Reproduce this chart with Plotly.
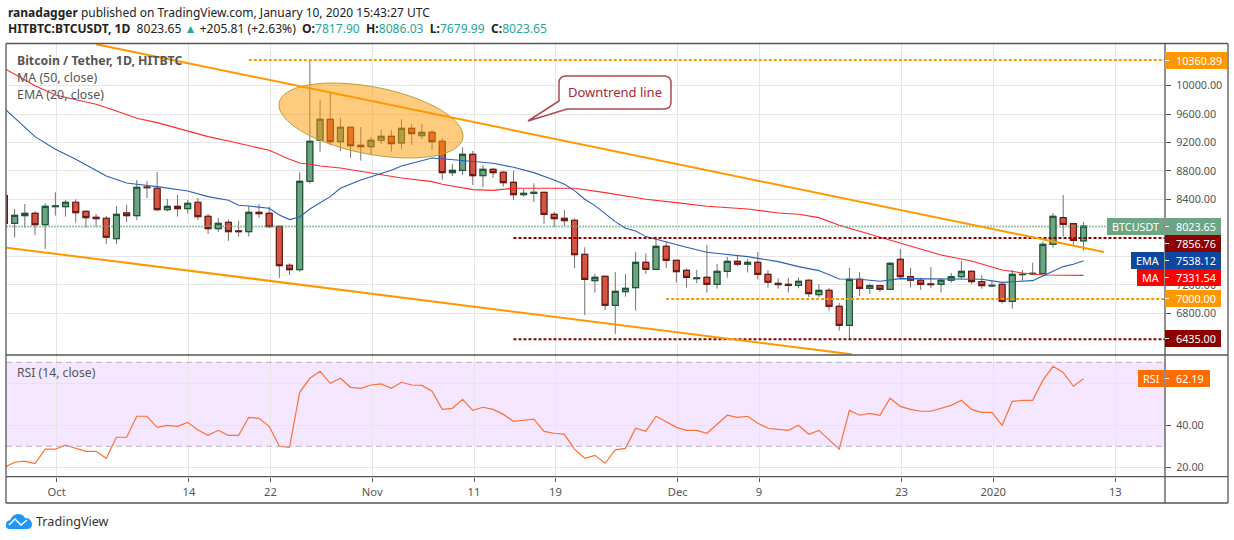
import numpy as np
import pandas as pd
import plotly.graph_objects as go
from plotly.subplots import make_subplots

W, H = 1234, 540
FONT = "Noto Sans"

dates = pd.date_range("2019-09-26", "2020-01-10", freq="D")

opens = [8453,8064,8172,8205,8046,8299,8299,8360,8233,8149,8135,7849,8210,8172,8575,8557,8257,8303,8271,8360,
         8163,7989,8078,7957,7947,8219,8205,8022,7474,7413,8655,9232,9527,9213,9415,9161,9143,9232,9288,9194,
         9400,9297,9344,9218,8777,8810,9035,8735,8824,8782,8641,8467,8486,8500,8191,8135,8107,7628,7258,7319,
         6911,7103,7160,7516,7417,7741,7544,7403,7286,7305,7206,7389,7530,7488,7516,7347,7220,7206,7192,7263,
         7061,7122,6897,6630,7277,7150,7188,7136,7558,7314,7263,7211,7206,7263,7314,7389,7244,7183,7206,6967,
         7342,7352,7356,7769,8144,8060,7817.90]
highs = [8453,8266,8336,8233,8346,8500,8393,8402,8233,8196,8167,8308,8322,8674,8660,8786,8407,8463,8393,8421,
         8196,8139,8121,8097,8308,8336,8299,8022,7502,8782,10360.89,9799,9907,9546,9415,9419,9274,9377,9377,9527,
         9461,9461,9377,9260,8899,9133,9082,8880,8838,8800,8800,8547,8627,8500,8224,8252,8135,7727,7352,7333,
         7380,7352,7661,7642,7877,7807,7544,7427,7408,7760,7492,7591,7619,7563,7661,7408,7291,7296,7305,7277,
         7206,7155,6944,7436,7380,7216,7197,7516,7703,7436,7300,7450,7291,7366,7535,7403,7338,7258,7220,7408,
         7408,7511,7807,8205,8463,8060,8086.03]
lows = [8064,7863,8003,7900,7703,8172,8158,8074,8003,8017,7774,7774,8083,8111,8421,8233,8233,8158,8200,8111,
        7914,7943,7816,7877,7877,8139,8003,7296,7338,7385,8622,9072,9166,9082,8983,8946,9025,9180,9072,9105,
        9166,9246,9096,8674,8730,8744,8603,8575,8702,8580,8393,8439,8364,8055,8008,8027,7436,6775,7089,6845,
        6508,7033,6836,7352,7417,7436,7230,7160,7220,7089,7145,7300,7464,7371,7272,7160,7145,7089,7150,7024,
        7024,6836,6555,6438,7042,7070,7103,7136,7277,7160,7127,7150,7089,7230,7286,7211,7145,7164,6935,6864,
        7258,7333,7347,7722,7877,7760,7679.99]
closes = [8064,8177,8205,8046,8303,8308,8360,8214,8144,8130,7868,8191,8172,8571,8566,8257,8303,8271,8346,8158,
          7989,8064,7947,7947,8219,8200,8017,7469,7413,8655,9218,9527,9213,9415,9157,9143,9232,9288,9185,9400,
          9325,9344,9213,8777,8810,9035,8735,8824,8777,8636,8467,8486,8500,8191,8130,8102,7624,7277,7305,6911,
          7108,7150,7516,7417,7741,7544,7385,7305,7296,7206,7389,7530,7488,7516,7347,7235,7202,7192,7249,7075,
          7122,6897,6630,7277,7150,7188,7136,7502,7314,7263,7206,7202,7263,7314,7389,7244,7188,7192,6967,7347,
          7347,7361,7769,8163,8050,7825,8023.65]

rsi = [20.0,22.4,22.9,21.7,28.6,28.6,30.5,29.0,27.6,27.6,24.3,34.3,34.3,44.3,44.3,39.0,40.0,39.5,41.4,37.8,
       35.2,37.6,35.2,35.2,43.8,43.3,39.5,30.0,29.5,55.7,62.4,65.7,60.0,62.4,58.1,57.6,59.2,59.7,57.6,60.5,
       59.2,59.0,56.2,47.6,48.1,52.4,47.1,48.6,47.6,45.2,41.9,42.4,42.9,37.1,36.2,35.7,28.6,24.3,25.7,21.9,
       28.3,29.0,38.6,37.1,44.3,41.7,39.0,37.6,37.6,36.2,40.6,44.8,43.8,44.3,41.0,38.6,38.1,37.6,40.0,35.7,
       37.6,33.3,28.6,47.1,44.8,45.7,44.8,52.9,49.0,47.6,46.7,46.7,48.1,49.5,51.9,47.6,46.2,46.2,40.0,51.4,
       51.9,51.9,61.4,68.1,65.2,58.6,62.19]

ma_dates = ["2019-09-26","2019-09-29","2019-10-01","2019-10-05","2019-10-07","2019-10-09","2019-10-11","2019-10-13",
            "2019-10-16","2019-10-18","2019-10-20","2019-10-22","2019-10-24","2019-10-25","2019-10-26","2019-10-27",
            "2019-10-29","2019-10-31","2019-11-02","2019-11-04","2019-11-07","2019-11-08","2019-11-11","2019-11-13",
            "2019-11-15","2019-11-21","2019-11-24","2019-11-28","2019-12-01","2019-12-04","2019-12-08","2019-12-11",
            "2019-12-13","2019-12-15","2019-12-17","2019-12-18","2019-12-21","2019-12-23","2019-12-27","2019-12-30",
            "2020-01-02","2020-01-04","2020-01-06","2020-01-10"]
ma_values = [10240,10000,9869,9738,9644,9541,9480,9405,9283,9222,9157,9091,8964,8913,8894,8871,8843,8796,8744,8702,
             8650,8613,8538,8528,8557,8557,8496,8402,8355,8303,8266,8210,8191,8144,8036,7994,7867,7792,7619,7535,
             7408,7366,7338,7331.54]

ema_dates = ["2019-09-26","2019-09-29","2019-10-01","2019-10-03","2019-10-06","2019-10-08","2019-10-09","2019-10-11",
             "2019-10-14","2019-10-16","2019-10-18","2019-10-19","2019-10-20","2019-10-22","2019-10-23","2019-10-24",
             "2019-10-25","2019-10-26","2019-10-28","2019-10-29","2019-10-31","2019-11-02","2019-11-03","2019-11-04",
             "2019-11-07","2019-11-08","2019-11-10","2019-11-13","2019-11-15","2019-11-17","2019-11-19","2019-11-20",
             "2019-11-21","2019-11-22","2019-11-23","2019-11-25","2019-11-26","2019-11-27","2019-11-28","2019-11-30",
             "2019-12-02","2019-12-04","2019-12-06","2019-12-08","2019-12-11","2019-12-13","2019-12-15","2019-12-17",
             "2019-12-19","2019-12-21","2019-12-23","2019-12-27","2019-12-31","2020-01-02","2020-01-05","2020-01-06",
             "2020-01-08","2020-01-09","2020-01-10"]
ema_values = [9677,9283,9105,8964,8730,8632,8613,8580,8519,8439,8388,8317,8308,8275,8181,8116,8153,8266,8439,8557,
              8674,8758,8810,8871,8983,8973,8950,8908,8852,8777,8674,8613,8524,8402,8313,8088,7994,7957,7877,7797,
              7727,7656,7628,7595,7525,7455,7399,7281,7277,7249,7286,7277,7277,7234,7258,7324,7455,7488,7538.12]

price_ticks = [6800,7200,7600,8000,8400,8800,9200,9600,10000]
rsi_ticks = [20,40,60]
x_tick_dates = ["2019-10-01","2019-10-14","2019-10-22","2019-11-01","2019-11-11","2019-11-19",
                "2019-12-01","2019-12-09","2019-12-23","2020-01-01","2020-01-13"]
x_tick_text = ["Oct","14","22","Nov","11","19","Dec","9","23","2020","13"]

trend_upper = (["2019-10-05","2020-01-12"], [10582,7661])
trend_lower = (["2019-09-26 05:00","2019-12-18 05:00"], [7722,6222])
levels = [("2019-10-20",10360.89,"#ff9800"),("2019-11-15",7856.76,"#8b0000"),
          ("2019-11-30",7000,"#ff9800"),("2019-11-15",6435,"#8b0000")]
last_price = 8023.65

# right hand price labels: text, side label, left edge of side label, colour, top and bottom pixel, right edge
price_labels = [("10360.89",None,None,"#ff9800",52,69,1227),("8023.65","BTCUSDT",1107,"#6ba583",218,235,1221),
                ("7856.76",None,None,"#8b0000",235,252,1221),("7538.12","EMA",1131,"#0d47a1",252,269,1221),
                ("7331.54","MA",1137,"#ff0000",269,286,1221),("7000.00",None,None,"#ff9800",290,307,1221),
                ("6435.00",None,None,"#8b0000",330,347,1221),("62.19","RSI",1138,"#ff6d00",370,387,1210)]


def px(x):
    return x / W


def py(y):
    return 1 - y / H


def path(cmds):
    out = []
    for c in cmds:
        pts = c[1:]
        xy = [f"{px(pts[i]):.5f},{py(pts[i+1]):.5f}" for i in range(0, len(pts), 2)]
        out.append(c[0] + " ".join(xy))
    return " ".join(out) + " Z"


def paper_shape(**kw):
    return dict(xref="paper", yref="paper", **kw)


def note(x, y, text, size=13, color="#555", anchor="left", **kw):
    fig.add_annotation(xref="paper", yref="paper", x=px(x), y=py(y), text=text, showarrow=False,
                       xanchor=anchor, yanchor="middle", font=dict(family=FONT, size=size, color=color), **kw)


assert len(dates) == len(opens) == len(highs) == len(lows) == len(closes) == len(rsi)

fig = make_subplots(rows=2, cols=1, shared_xaxes=True)

# wicks and bodies have different colours so they go in two traces
fig.add_trace(go.Candlestick(x=dates, open=opens, high=highs, low=lows, close=closes,
                             increasing=dict(line=dict(color="#737375", width=1), fillcolor="#6ba583"),
                             decreasing=dict(line=dict(color="#737375", width=1), fillcolor="#d75442"),
                             hoverinfo="skip", showlegend=False), row=1, col=1)
body_high = np.maximum(opens, closes)
body_low = np.minimum(opens, closes)
fig.add_trace(go.Candlestick(x=dates, open=opens, high=body_high, low=body_low, close=closes,
                             increasing=dict(line=dict(color="#225437", width=1.2), fillcolor="#6ba583"),
                             decreasing=dict(line=dict(color="#6b1a14", width=1.2), fillcolor="#d75442"),
                             hoverinfo="skip", showlegend=False), row=1, col=1)
fig.add_trace(go.Scatter(x=ma_dates, y=ma_values, mode="lines", line=dict(color="#ff2a2a", width=1.1),
                         hoverinfo="skip", showlegend=False), row=1, col=1)
fig.add_trace(go.Scatter(x=ema_dates, y=ema_values, mode="lines", line=dict(color="#2a5fb5", width=1.1),
                         hoverinfo="skip", showlegend=False), row=1, col=1)
fig.add_trace(go.Scatter(x=dates, y=rsi, mode="lines", line=dict(color="#ff7033", width=1.2),
                         hoverinfo="skip", showlegend=False), row=2, col=1)

grid = "#e6e6e6"
x_common = dict(type="date", range=["2019-09-26 03:36", "2020-01-18 00:00"],
                tickvals=[pd.Timestamp(d) + pd.Timedelta(hours=3) for d in x_tick_dates],
                ticktext=x_tick_text, showgrid=True, gridcolor=grid, gridwidth=1.2, zeroline=False,
                rangeslider=dict(visible=False))
y_common = dict(side="right", tickformat=".2f", showgrid=True, gridcolor=grid, gridwidth=1.2, zeroline=False,
                ticks="outside", ticklen=5, tickcolor="#555", ticklabelstandoff=3,
                tickfont=dict(family=FONT, size=10.8, color="#555"))

fig.update_layout(
    width=W, height=H, margin=dict(l=0, r=0, t=0, b=0), autosize=False,
    paper_bgcolor="white", plot_bgcolor="white", boxgap=0.42, boxgroupgap=0, showlegend=False,
    xaxis=dict(domain=[px(6), px(1165)], showticklabels=False, ticks="", **x_common),
    xaxis2=dict(domain=[px(6), px(1165)], ticks="outside", ticklen=4, tickcolor="#555", ticklabelstandoff=1,
                tickfont=dict(family=FONT, size=11.2, color="#555"), **x_common),
    yaxis=dict(domain=[py(355), py(43.5)], range=[6212, 10593], tickvals=price_ticks, **y_common),
    yaxis2=dict(domain=[py(476.7), py(355)], range=[15.5, 73.5], tickvals=rsi_ticks, **y_common),
)

shapes = []

# rsi band
shapes.append(dict(type="rect", xref="x2 domain", yref="y2", x0=0, x1=1, y0=30, y1=70, layer="below",
                   fillcolor="rgba(153,21,255,0.1)", line_width=0))
for lvl in (30, 70):
    shapes.append(dict(type="line", xref="x2 domain", yref="y2", x0=0, x1=1, y0=lvl, y1=lvl,
                       line=dict(color="#b8b0c0", width=1, dash="6px,4px")))

# last price and horizontal levels
shapes.append(dict(type="line", xref="x domain", yref="y", x0=0, x1=1, y0=last_price, y1=last_price,
                   line=dict(color="#6ba583", width=1, dash="2px,1px")))
for start, val, col in levels:
    shapes.append(dict(type="line", xref="x", yref="y", x0=start, x1="2020-01-18", y0=val, y1=val,
                       line=dict(color=col, width=2, dash="3px,2px")))

# highlighted area, tilted ellipse
t = np.linspace(0, 2 * np.pi, 73)[:-1]
ex = 371 + 92 * np.cos(t)
ey = 120.5 + 15.5 * np.cos(t) + 34.1 * np.sin(t)
ell = [("M", ex[0], ey[0])] + [("L", a, b) for a, b in zip(ex[1:], ey[1:])]
shapes.append(paper_shape(type="path", path=path(ell), fillcolor="rgba(255,152,0,0.5)",
                          line=dict(color="#b8a13a", width=1)))

# channel lines
for xs, ys in (trend_upper, trend_lower):
    shapes.append(dict(type="line", xref="x", yref="y", x0=xs[0], x1=xs[1], y0=ys[0], y1=ys[1],
                       line=dict(color="#ff9800", width=2)))

# callout
callout = [("M", 566, 76), ("L", 664, 76), ("Q", 671, 76, 671, 83), ("L", 671, 102), ("Q", 671, 109, 664, 109),
           ("L", 567, 109), ("L", 528, 121), ("L", 559, 101), ("L", 559, 83), ("Q", 559, 76, 566, 76)]
shapes.append(paper_shape(type="path", path=path(callout), fillcolor="white",
                          line=dict(color="#ad4a55", width=1.5)))

# frame
for x0, y0, x1, y1 in [(6, 43.5, 1228, 43.5), (6, 503, 1228, 503), (6, 43.5, 6, 503), (1228, 43.5, 1228, 503),
                       (6, 355, 1228, 355), (6, 476.7, 1228, 476.7), (1165, 43.5, 1165, 503)]:
    shapes.append(paper_shape(type="line", x0=px(x0), x1=px(x1), y0=py(y0), y1=py(y1),
                              line=dict(color="#555", width=1.3)))

# price labels on the axis
for val, side, left, col, top, bot, right in price_labels:
    shapes.append(paper_shape(type="rect", x0=px(1165), x1=px(right), y0=py(bot), y1=py(top), fillcolor=col, line_width=0))
    shapes.append(paper_shape(type="line", x0=px(1165), x1=px(1169), y0=py((top + bot) / 2), y1=py((top + bot) / 2),
                              line=dict(color="white", width=1)))
    if side:
        shapes.append(paper_shape(type="rect", x0=px(left), x1=px(1164), y0=py(bot), y1=py(top), fillcolor=col, line_width=0))

# logo
cloud = [("M", 10, 529), ("Q", 5, 529, 6, 524), ("Q", 6, 521, 10, 520), ("Q", 13, 514, 18, 514),
         ("Q", 23, 514, 25, 518), ("Q", 31, 518, 32, 524), ("Q", 32, 529, 27, 529)]
shapes.append(paper_shape(type="path", path=path(cloud), fillcolor="#2196f3", line_width=0))
shapes.append(paper_shape(type="path", path="M{:.5f},{:.5f} L{:.5f},{:.5f} L{:.5f},{:.5f} L{:.5f},{:.5f}".format(
    px(9), py(525), px(15), py(519), px(21), py(525), px(27), py(520)), line=dict(color="white", width=1.5)))

fig.update_layout(shapes=shapes)

# header
note(6, 12, "<b>ranadagger</b> published on TradingView.com, January 10, 2020 15:43:27 UTC", size=12, color="#222")
teal = "#26a69a"
note(6, 29, "<b>HITBTC:BTCUSDT, 1D</b>  8023.65 <span style='color:%s'>▲</span> +205.81 (+2.63%%)  "
            "<b>O:</b><span style='color:%s'>7817.90</span>  <b>H:</b><span style='color:%s'>8086.03</span>  "
            "<b>L:</b><span style='color:%s'>7679.99</span>  <b>C:</b><span style='color:%s'>8023.65</span>"
     % (teal, teal, teal, teal, teal), size=12.1, color="#222")

# pane legends
note(15, 60.5, "<b>Bitcoin / Tether, 1D, HITBTC</b>", size=12.3)
note(15, 77.5, "MA (50, close)", size=12.4)
note(15, 94.5, "EMA (20, close)", size=12.4)
note(15, 372.5, "RSI (14, close)", size=12.2)

note(615, 92, "Downtrend line", size=13, color="#a52a35", anchor="center")

for val, side, left, col, top, bot, right in price_labels:
    note(1174, (top + bot) / 2, val, size=10.8, color="white")
    if side:
        note((left + 1164) / 2, (top + bot) / 2, side, size=10.8, color="white", anchor="center")

note(34, 521, "TradingView", size=12.6, color="#333")

fig.write_html("out.html", config={"displayModeBar": False}, post_script="document.body.style.margin='0';")
